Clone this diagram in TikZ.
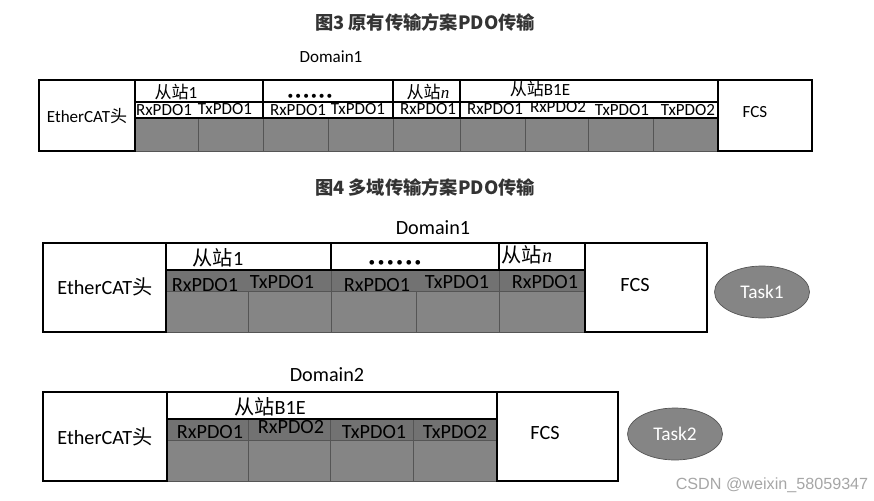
\documentclass[tikz,border=0pt]{standalone}
\usepackage{fontspec}
\setmainfont{Carlito}
\newfontfamily\cjk{Noto Sans CJK SC}
\newfontfamily\serifit{Liberation Serif}
\newfontfamily\wmfont{Liberation Sans}
\usetikzlibrary{shapes.geometric}

\definecolor{cellgray}{HTML}{858585}
\definecolor{rowgray}{HTML}{727272}
\definecolor{edgegray}{HTML}{555555}

\newcommand{\zhan}{{\cjk 从站}}
\newcommand{\tou}{EtherCAT{\cjk 头}}
\newcommand{\sixdots}[2]{{\fontsize{#1}{#1}\selectfont\textbullet\kern#2\textbullet\kern#2\textbullet\kern#2\textbullet\kern#2\textbullet\kern#2\textbullet}}

\begin{document}
\begin{tikzpicture}[x=0.02cm, y=-0.02cm,
frm/.style={draw=black, line width=0.6pt},
frmb/.style={draw=black, line width=1pt},
cell/.style={fill=cellgray, draw=edgegray, line width=0.5pt},
row/.style={fill=rowgray, draw=edgegray, line width=0.5pt},
tt/.style={font=\cjk\bfseries\fontsize{10.4}{12}\selectfont, text=black!80},
sm/.style={font=\fontsize{9.7}{11}\selectfont, inner sep=0pt},
lg/.style={font=\fontsize{11.5}{13}\selectfont, inner sep=0pt},
task/.style={ellipse, draw=edgegray, fill=cellgray, text=white, minimum width=1.9cm,
              minimum height=1.04cm, font=\fontsize{11}{13}\selectfont},
]
\useasboundingbox (0,0) rectangle (874,500);

% ---- figure 3
\node[tt] (title3) at (425,22) {图3 原有传输方案PDO传输};
\node[sm] (dom3) at (331,57) {Domain1};
\foreach \a/\b in {135/198,198/263,263/328,328/393,393/460,460/525,525/588,588/653,653/718}
  \draw[cell] (\a,118) rectangle (\b,151);
\foreach \a/\b in {135/263,263/393,393/460,460/718} {
  \draw[frm] (\a,80) rectangle (\b,118);
  \draw[frm] (\a,102) -- (\b,102);
}
\draw[frm] (39,80) rectangle (135,151);
\draw[frm] (718,80) rectangle (812,151);
\node[sm] (eth3) at (87,116) {\tou};
\node[sm] (s1a) at (176,92) {\zhan 1};
\node[sm] (dots3) at (310,97) {\sixdots{6.5}{1.2pt}};
\node[sm] (sna) at (428,92) {\zhan{\serifit\itshape n}};
\node[sm] (b1ea) at (540,89) {\zhan B1E};
\node[sm] (p31) at (164,110) {RxPDO1};
\node[sm] (p32) at (225,109) {TxPDO1};
\node[sm] (p33) at (298,110) {RxPDO1};
\node[sm] (p34) at (358,109) {TxPDO1};
\node[sm] (p35) at (428,109) {RxPDO1};
\node[sm] (p36) at (495,109) {RxPDO1};
\node[sm] (p37) at (558,107) {RxPDO2};
\node[sm] (p38) at (622,110) {TxPDO1};
\node[sm] (p39) at (688,110) {TxPDO2};
\node[sm] (fcs3) at (755,112) {FCS};

% ---- figure 4, domain 1
\node[tt] (title4) at (425,187) {图4 多域传输方案PDO传输};
\node[lg] (dom41) at (433,228) {Domain1};
\foreach \a/\b in {166/248,248/331,331/416,416/499,499/584}
  \draw[cell] (\a,291) rectangle (\b,332);
\foreach \a/\b in {166/331,331/499,499/584}
  \draw[row] (\a,270) rectangle (\b,291);
\foreach \a/\b in {166/331,331/499,499/585}
  \draw[frm] (\a,243) rectangle (\b,270);
\draw[frmb] (43,243) rectangle (166,332);
\draw[frmb] (585,243) rectangle (707,332);
\draw[frmb] (166,243) -- (585,243);
\node[lg] (eth41) at (105,287) {\tou};
\node[lg] (s1b) at (218,258) {\zhan 1};
\node[lg] (dots4) at (395,263) {\sixdots{7.5}{1.5pt}};
\node[lg] (snb) at (527,255) {\zhan{\serifit\itshape n}};
\node[lg] (p41) at (205,285) {RxPDO1};
\node[lg] (p42) at (282,282) {TxPDO1};
\node[lg] (p43) at (377,285) {RxPDO1};
\node[lg] (p44) at (457,282) {TxPDO1};
\node[lg] (p45) at (545,282) {RxPDO1};
\node[lg] (fcs41) at (635,285) {FCS};
\node[task] (task1) at (762,292) {Task1};

% ---- figure 4, domain 2
\node[lg] (dom42) at (327,375) {Domain2};
\foreach \a/\b in {167/248,248/330,330/413,413/497} {
  \draw[cell] (\a,440) rectangle (\b,481);
  \draw[row] (\a,419) rectangle (\b,440);
}
\draw[frm] (167,392) rectangle (497,419);
\draw[frmb] (43,392) rectangle (167,481);
\draw[frmb] (497,392) rectangle (618,481);
\draw[frmb] (167,392) -- (497,392);
\node[lg] (eth42) at (105,437) {\tou};
\node[lg] (b1eb) at (270,407) {\zhan B1E};
\node[lg] (p51) at (210,432) {RxPDO1};
\node[lg] (p52) at (291,427) {RxPDO2};
\node[lg] (p53) at (374,432) {TxPDO1};
\node[lg] (p54) at (455,432) {TxPDO2};
\node[lg] (fcs42) at (545,433) {FCS};
\node[task] (task2) at (675,434) {Task2};

\node[font=\wmfont\fontsize{9.2}{11}\selectfont, text=black!35, inner sep=0pt] (wm) at (772,485) {CSDN @weixin\_58059347};
\end{tikzpicture}
\end{document}
